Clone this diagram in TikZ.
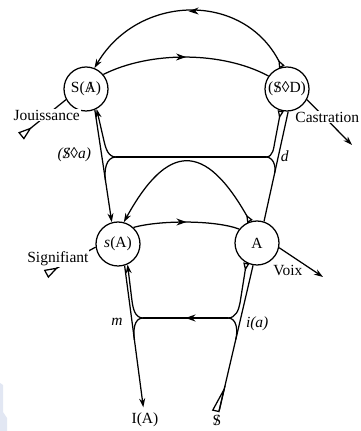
\documentclass[tikz,border=0pt]{standalone}
\usepackage{fontspec}
\setmainfont{Liberation Serif}
\usepackage{tikz}
\usetikzlibrary{arrows.meta, decorations.markings, calc}
\definecolor{wash}{RGB}{226,231,243}
\newcommand{\barred}[1]{\ooalign{#1\cr\hidewidth/\hidewidth}}
\tikzset{
	every node/.append style={
		font=\fontsize{15.5}{18}\selectfont,
	},
	place/.append style={
		draw,
		circle,
		minimum size=44pt,
		inner sep=0pt,
	},
	lbl/.append style={
		fill=white,
		inner sep=1pt,
	},
	itl/.append style={
		font=\fontsize{15.5}{18}\selectfont\itshape,
		inner sep=1pt,
	},
	midarrow/.append style={
		postaction={decorate},
		decoration={markings,
			mark=at position 0.5 with {\arrow{Stealth[length=10pt,width=7pt]}}},
	},
	>={Stealth[length=9pt,width=6pt]},
	wd/.tip={Triangle[open,reversed,length=8pt,width=6pt]},
	dl/.tip={Triangle[open,reversed,length=14pt,width=9pt]},
	dls/.tip={Triangle[open,reversed,harpoon,swap,length=26pt,width=14pt]},
}

\begin{document}
\begin{tikzpicture}[x=1pt, y=1pt, line width=1.25pt]
\useasboundingbox (0,0) rectangle (361,431);
\fill[wash] (0,0) -- (7,0) -- (7,13) -- (3,19) -- (3,46) -- (0,48) -- cycle;

\node(SA)[place] at (86,342) {S(\barred{A})};
\node(SD)[place] at (287,342) {(\barred{S}◊D)};
\node(sA)[place] at (118,187) {\textit{s}(A)};
\node(A)[place] at (257,188) {A};
\node(IA)[inner sep=5pt] at (145,11) {I(A)};
\node(S)[inner sep=2pt] at (217,11) {\barred{S}};

\coordinate(jou) at (21,295);
\coordinate(sig) at (46,157);
\coordinate(cas) at (352,286);
\coordinate(voi) at (323,154);

% upper arcs
\draw[wd->, midarrow] (SD.103) .. controls (243,440) and (138,437) .. (SA.68);
\draw[midarrow] (SA.40) .. controls (150,380) and (222,380) .. (SD.145);

% upper verticals
\draw[->] (SA.-67) -- node[itl, pos=0.4, left=9pt] {(\barred{S}◊a)} (sA.106);
\draw (SD.-87) -- node[itl, pos=0.41, right=1pt] {d} (A.72);

% upper loop
\coordinate(jl) at (116,274);
\coordinate(jr) at (266,274);
\draw (jr) -- (jl);
\draw[->] (jl) to[out=180,in=-77] (104,290) -- (SA.-62);
\draw (jl) to[out=180,in=99] ($(SA.-67)!0.63!(sA.106)$);
\draw[-wd] (jr) to[out=0,in=-101] (275,290) -- (SD.-106);
\draw (jr) to[out=0,in=77] ($(SD.-87)!0.56!(A.72)$);

% lower arcs
\draw[wd->] (A.108) .. controls (205,289) and (168,289) .. (sA.75);
\draw[midarrow] (sA.47) .. controls (160,211) and (215,211) .. (A.142);

% lower verticals
\draw[->] (sA.-73) -- node[itl, pos=0.4, left=8pt] {m} (IA);
\draw[-dls] (A.-100) -- node[itl, pos=0.4, right=5pt] {i(a)} (S);

% lower loop
\coordinate(kl) at (143,113);
\coordinate(kr) at (228,113);
\draw[midarrow] (kr) -- (kl);
\draw[->] (kl) to[out=180,in=-82] (132,130) -- (sA.-65);
\draw (kl) to[out=180,in=98] ($(sA.-73)!0.48!(IA)$);
\draw[-wd] (kr) to[out=0,in=-100] (240,128) -- (A.-118);
\draw (kr) to[out=0,in=76] ($(A.-100)!0.48!(S)$);

% side arrows
\draw[-dl] (SA.-152) -- node[lbl, pos=0.43] {Jouissance} (jou);
\draw[-dl] (sA.-172) -- node[lbl, pos=0.76, yshift=9pt] {Signifiant} (sig);
\draw[->] (SD.-28) -- node[lbl, pos=0.54, yshift=7pt, xshift=-4pt] {Castration} (cas);
\draw[->] (A.-12) -- node[lbl, pos=0.2, below=10pt] {Voix} (voi);

\end{tikzpicture}
\end{document}
